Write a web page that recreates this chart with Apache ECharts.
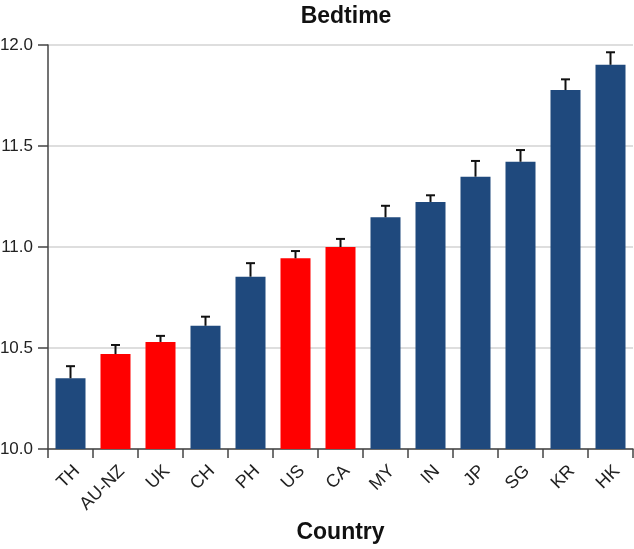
<!DOCTYPE html>
<html>
<head>
<meta charset="utf-8">
<script src="https://cdn.jsdelivr.net/npm/echarts@6/dist/echarts.min.js"></script>
<style>html,body{margin:0;padding:0;background:#fff}#c{width:634px;height:549px}</style>
</head>
<body>
<div id="c"></div>
<script>
const countries = ['TH','AU-NZ','UK','CH','PH','US','CA','MY','IN','JP','SG','KR','HK'];
const bedtime = [10.35, 10.47, 10.53, 10.61, 10.853, 10.944, 11.0, 11.147, 11.223, 11.348, 11.422, 11.777, 11.902];
const errorTop = [10.41, 10.515, 10.56, 10.655, 10.92, 10.98, 11.04, 11.204, 11.256, 11.426, 11.48, 11.83, 11.964];
const highlighted = ['AU-NZ','UK','US','CA'];
const yTicks = [10.0, 10.5, 11.0, 11.5, 12.0];

const NAVY = '#1f497d', RED = '#ff0000';
const FONT = 'Liberation Sans, Arial, sans-serif';

const chart = echarts.init(document.getElementById('c'));
chart.setOption({
  animation: false,
  title: {
    text: 'Bedtime', left: 341, top: 0, textAlign: 'center',
    textStyle: {fontFamily: FONT, fontWeight: 'bold', fontSize: 23, color: '#111'}
  },
  grid: {left: 48, right: 1, top: 45, bottom: 100, outerBoundsMode: 'none', containLabel: false},
  xAxis: {
    type: 'category', data: countries,
    name: 'Country', nameLocation: 'middle', nameGap: 72,
    nameTextStyle: {fontFamily: FONT, fontWeight: 'bold', fontSize: 23, color: '#111'},
    axisLine: {lineStyle: {color: '#444', width: 1.5}},
    axisTick: {show: true, length: 9, lineStyle: {color: '#444', width: 1.5}},
    axisLabel: {rotate: 45, fontFamily: FONT, fontSize: 18, color: '#222', margin: 13,
      interval: 0, verticalAlign: 'top'}
  },
  yAxis: {
    type: 'value', min: yTicks[0], max: yTicks[yTicks.length - 1], interval: 0.5,
    axisLine: {show: true, lineStyle: {color: '#444', width: 1.5}},
    axisTick: {show: true, length: 10, lineStyle: {color: '#444', width: 1.5}},
    axisLabel: {fontFamily: FONT, fontSize: 17, color: '#222', margin: 15,
      formatter: v => v.toFixed(1)},
    splitLine: {lineStyle: {color: '#d3d3d3', width: 1.5}}
  },
  series: [
    {
      type: 'bar', barWidth: 30,
      data: bedtime.map((v, i) => ({
        value: v,
        itemStyle: {color: highlighted.includes(countries[i]) ? RED : NAVY}
      }))
    },
    {
      type: 'custom',
      data: bedtime.map((v, i) => [i, v, errorTop[i]]),
      encode: {x: 0, y: [1, 2]},
      renderItem: function (params, api) {
        const base = api.coord([api.value(0), api.value(1)]);
        const top = api.coord([api.value(0), api.value(2)]);
        const cap = 4.5;
        const style = {stroke: '#111', lineWidth: 2};
        return {
          type: 'group',
          children: [
            {type: 'line', shape: {x1: base[0], y1: base[1], x2: top[0], y2: top[1]}, style: style},
            {type: 'line', shape: {x1: top[0] - cap, y1: top[1], x2: top[0] + cap, y2: top[1]}, style: style}
          ]
        };
      },
      z: 3
    }
  ]
});
</script>
</body>
</html>
